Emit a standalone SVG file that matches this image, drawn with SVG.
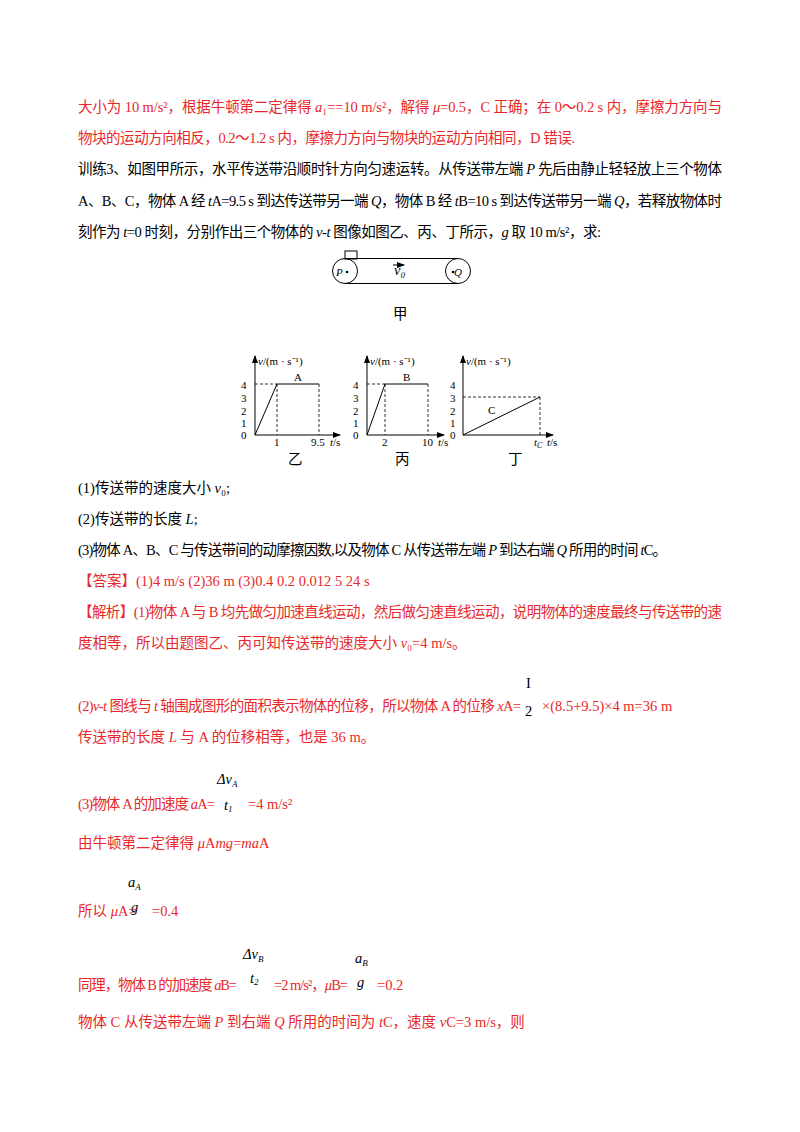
<svg xmlns="http://www.w3.org/2000/svg" width="800" height="1132" viewBox="0 0 800 1132">
<style>
text{font-family:"Liberation Serif","Noto Sans CJK SC",serif;font-size:14.5px;fill:#000}
.r{fill:#e8282a}
.s{font-size:11px}
.i{font-style:italic}
.ax{stroke:#000;stroke-width:1;fill:none}
.d{stroke:#000;stroke-width:0.8;stroke-dasharray:3,2;fill:none}
</style>
<defs><marker id="ar" markerWidth="8" markerHeight="6" refX="7" refY="3" orient="auto"><path d="M0,0 L8,3 L0,6 Z" fill="#000"/></marker></defs>
<rect width="800" height="1132" fill="#fff"/>
<text class="r" x="78" y="112" textLength="644">大小为 10 m/s²，根据牛顿第二定律得 <tspan class="i">a</tspan>₁==10 m/s²，解得 <tspan class="i">μ</tspan>=0.5，C 正确；在 0～0.2 s 内，摩擦力方向与</text>
<text class="r" x="78" y="143" textLength="497">物块的运动方向相反，0.2～1.2 s 内，摩擦力方向与物块的运动方向相同，D 错误.</text>
<text x="78" y="174" textLength="644">训练3、如图甲所示，水平传送带沿顺时针方向匀速运转。从传送带左端 <tspan class="i">P</tspan> 先后由静止轻轻放上三个物体</text>
<text x="78" y="206" textLength="644">A、B、C，物体 A 经 <tspan class="i">t</tspan>A=9.5 s 到达传送带另一端 <tspan class="i">Q</tspan>，物体 B 经 <tspan class="i">t</tspan>B=10 s 到达传送带另一端 <tspan class="i">Q</tspan>，若释放物体时</text>
<text x="78" y="237" textLength="523">刻作为 <tspan class="i">t</tspan>=0 时刻，分别作出三个物体的 <tspan class="i">v</tspan>-<tspan class="i">t</tspan> 图像如图乙、丙、丁所示，<tspan class="i">g</tspan> 取 10 m/s²，求:</text>
<g id="belt">
<circle cx="345" cy="271" r="12.5" class="ax"/><circle cx="458" cy="271" r="12.5" class="ax"/>
<line x1="345" y1="258.5" x2="458" y2="258.5" class="ax"/><line x1="345" y1="283.5" x2="458" y2="283.5" class="ax"/>
<rect x="345" y="251" width="12" height="8" class="ax"/>
<text x="336" y="276" class="s i">P</text><circle cx="347" cy="272" r="1.3"/>
<text x="454" y="276" class="s i">Q</text><circle cx="453" cy="272" r="1.3"/>
<line x1="393" y1="265" x2="404" y2="265" class="ax" marker-end="url(#ar)" stroke-width="0.7"/>
<text x="394" y="275" font-size="9" class="i">v₀</text>
<text x="393" y="319" font-size="13">甲</text>
</g>
<g id="graphA">
<line x1="255" y1="435" x2="255" y2="356" class="ax" marker-end="url(#ar)"/>
<line x1="255" y1="435" x2="340" y2="435" class="ax" marker-end="url(#ar)"/>
<text x="258" y="365" class="s"><tspan class="i">v</tspan>/(m · s⁻¹)</text>
<text x="241" y="389" class="s">4</text><text x="241" y="402" class="s">3</text><text x="241" y="415" class="s">2</text><text x="241" y="427" class="s">1</text><text x="241" y="439" class="s">0</text>
<line x1="255" y1="384" x2="277" y2="384" class="d"/><line x1="277" y1="384" x2="277" y2="435" class="d"/><line x1="319" y1="384" x2="319" y2="435" class="d"/>
<polyline points="255,435 277,384 319,384" class="ax"/>
<text x="294" y="381" class="s">A</text>
<text x="274" y="446" class="s">1</text><text x="311" y="446" class="s">9.5</text><text x="330" y="446" class="s"><tspan class="i">t</tspan>/s</text>
<text x="288" y="464" font-size="13">乙</text>
</g>
<g id="graphB">
<line x1="367" y1="435" x2="367" y2="356" class="ax" marker-end="url(#ar)"/>
<line x1="367" y1="435" x2="444" y2="435" class="ax" marker-end="url(#ar)"/>
<text x="370" y="365" class="s"><tspan class="i">v</tspan>/(m · s⁻¹)</text>
<text x="353" y="389" class="s">4</text><text x="353" y="402" class="s">3</text><text x="353" y="415" class="s">2</text><text x="353" y="427" class="s">1</text><text x="353" y="439" class="s">0</text>
<line x1="367" y1="384" x2="385" y2="384" class="d"/><line x1="385" y1="384" x2="385" y2="435" class="d"/><line x1="428" y1="384" x2="428" y2="435" class="d"/>
<polyline points="367,435 385,384 428,384" class="ax"/>
<text x="403" y="381" class="s">B</text>
<text x="382" y="446" class="s">2</text><text x="422" y="446" class="s">10</text><text x="438" y="446" class="s"><tspan class="i">t</tspan>/s</text>
<text x="395" y="464" font-size="13">丙</text>
</g>
<g id="graphC">
<line x1="463" y1="435" x2="463" y2="356" class="ax" marker-end="url(#ar)"/>
<line x1="463" y1="435" x2="553" y2="435" class="ax" marker-end="url(#ar)"/>
<text x="466" y="365" class="s"><tspan class="i">v</tspan>/(m · s⁻¹)</text>
<text x="450" y="389" class="s">4</text><text x="450" y="402" class="s">3</text><text x="450" y="415" class="s">2</text><text x="450" y="427" class="s">1</text><text x="450" y="439" class="s">0</text>
<line x1="463" y1="397" x2="540" y2="397" class="d"/><line x1="540" y1="397" x2="540" y2="435" class="d"/>
<line x1="463" y1="435" x2="540" y2="397" class="ax"/>
<text x="488" y="414" class="s">C</text>
<text x="534" y="446" class="s i">t<tspan font-size="8" dy="2">C</tspan></text><text x="547" y="446" class="s"><tspan class="i">t</tspan>/s</text>
<text x="508" y="464" font-size="13">丁</text>
</g>
<text x="78" y="493">(1)传送带的速度大小 <tspan class="i">v</tspan>₀;</text>
<text x="78" y="524">(2)传送带的长度 <tspan class="i">L</tspan>;</text>
<text x="78" y="555" textLength="589">(3)物体 A、B、C 与传送带间的动摩擦因数,以及物体 C 从传送带左端 <tspan class="i">P</tspan> 到达右端 <tspan class="i">Q</tspan> 所用的时间 <tspan class="i">t</tspan>C。</text>
<text class="r" x="78" y="586">【答案】(1)4 m/s   (2)36 m   (3)0.4   0.2   0.012 5   24 s</text>
<text class="r" x="78" y="617" textLength="644">【解析】(1)物体 A 与 B 均先做匀加速直线运动，然后做匀速直线运动，说明物体的速度最终与传送带的速</text>
<text class="r" x="78" y="648">度相等，所以由题图乙、丙可知传送带的速度大小 <tspan class="i">v</tspan>₀=4 m/s。</text>
<text x="526" y="688" font-size="18">I</text>
<text x="525" y="716" font-size="16">2</text>
<text class="r" x="78" y="711" textLength="443">(2)<tspan class="i">v</tspan>-<tspan class="i">t</tspan> 图线与 <tspan class="i">t</tspan> 轴围成图形的面积表示物体的位移，所以物体 A 的位移 <tspan class="i">x</tspan>A=</text>
<text class="r" x="542" y="711">×(8.5+9.5)×4 m=36 m</text>
<text class="r" x="78" y="742">传送带的长度 <tspan class="i">L</tspan> 与 A 的位移相等，也是 36 m。</text>
<text x="217" y="784" font-size="14" class="i">Δv<tspan font-size="9" dy="3">A</tspan></text>
<text x="224" y="810" font-size="13" class="i">t<tspan font-size="9" dy="2">1</tspan></text>
<text class="r" x="78" y="809" textLength="137">(3)物体 A 的加速度 <tspan class="i">a</tspan>A=</text>
<text class="r" x="248" y="809">=4 m/s²</text>
<text class="r" x="78" y="848">由牛顿第二定律得 <tspan class="i">μ</tspan>A<tspan class="i">mg</tspan>=<tspan class="i">ma</tspan>A</text>
<text x="128" y="887" font-size="14" class="i">a<tspan font-size="9" dy="3">A</tspan></text>
<text x="131" y="912" font-size="14" class="i">g</text>
<text class="r" x="78" y="916" font-size="14">所以 <tspan class="i">μ</tspan>A=</text><text class="r" x="152" y="916">=0.4</text>
<text x="243" y="959" font-size="14" class="i">Δv<tspan font-size="9" dy="3">B</tspan></text>
<text x="250" y="983" font-size="13" class="i">t<tspan font-size="9" dy="2">2</tspan></text>
<text x="355" y="963" font-size="14" class="i">a<tspan font-size="9" dy="3">B</tspan></text>
<text x="357" y="987" font-size="14" class="i">g</text>
<text class="r" x="78" y="990" textLength="159">同理，物体 B 的加速度 <tspan class="i">a</tspan>B=</text><text class="r" x="274" y="990" textLength="74">=2 m/s²，<tspan class="i">μ</tspan>B=</text><text class="r" x="377" y="990">=0.2</text>
<text class="r" x="78" y="1027">物体 C 从传送带左端 <tspan class="i">P</tspan> 到右端 <tspan class="i">Q</tspan> 所用的时间为 <tspan class="i">t</tspan>C，速度 <tspan class="i">v</tspan>C=3 m/s，则</text>
</svg>
